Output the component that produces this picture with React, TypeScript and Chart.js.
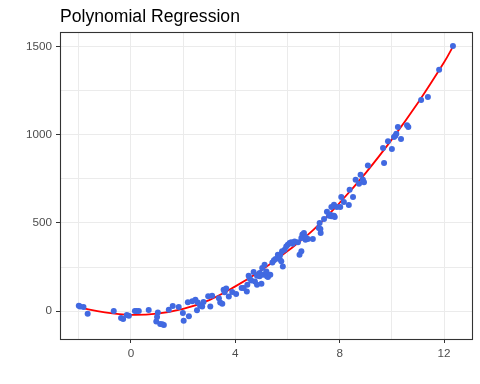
import React, { useEffect, useRef } from "react";
import { Chart, registerables } from "chart.js";

Chart.register(...registerables);

const titleText = "Polynomial Regression";

const pointX = [
  -2.0, -1.95, -1.82, -1.66, -0.66, -0.38, -0.3, -0.16, -0.08, 0.15, 0.22, 0.3, 0.68,
  0.97, 1.0, 1.03, 1.12, 1.26, 1.2, 1.45, 1.6, 1.83, 1.99, 2.02, 2.22,
  2.18, 2.35, 2.47, 2.56, 2.53, 2.65, 2.73, 2.78, 2.96, 3.11, 3.04, 3.37, 3.42, 3.5,
  3.55, 3.65, 3.59, 3.75, 3.88, 4.03,
  4.24, 4.32, 4.44, 4.46, 4.51, 4.55, 4.61, 4.7, 4.75, 4.83, 4.83, 4.93, 4.93, 5.0,
  5.03, 5.12, 5.06, 5.19, 5.21, 5.19, 5.25, 5.34,
  5.42, 5.48, 5.54, 5.63, 5.7, 5.76, 5.82, 5.72, 5.79, 5.89, 5.95, 6.01, 6.08, 6.14,
  6.2, 6.27, 6.4, 6.46, 6.53, 6.57, 6.63, 6.69, 6.78, 6.97, 6.53, 6.69,
  7.2, 7.23, 7.27, 7.26, 7.4, 7.51, 7.59, 7.64, 7.68, 7.74, 7.78, 7.81, 7.68, 7.78, 7.89,
  8.02, 8.06, 8.16, 8.35, 8.38, 8.51, 8.61, 8.74, 8.8, 8.89, 8.93, 9.08, 9.66, 9.7,
  9.85, 10.0, 10.08, 10.13, 10.17, 10.23, 10.35, 10.58, 10.63, 11.12, 11.38, 11.81, 12.34,
];

const pointY = [
  30, 26, 23, -15, 0, -40, -45, -23, -27, 0, 0, 0, 6,
  -59, -34, -8, -74, -80, -75, 7, 28, 23, -11, -56, -30,
  50, 55, 64, 49, 5, 30, 25, 51, 84, 86, 26, 72, 49, 41,
  121, 128, 106, 83, 108, 97,
  131, 131, 111, 149, 200, 184, 174, 222, 168, 149, 200, 197, 216, 155,
  244, 263, 206, 216, 197, 225, 193, 206,
  276, 288, 295, 320, 295, 282, 253, 320, 339, 348, 367, 377, 386, 390,
  382, 395, 390, 320, 339, 434, 443, 405, 409, 409, 415, 420,
  472, 500, 443, 466, 523, 564, 541, 547, 538, 541, 541, 534, 591, 604, 591,
  591, 648, 619, 602, 689, 648, 746, 723, 774, 746, 731, 826, 926, 841,
  964, 920, 989, 996, 1007, 1045, 977, 1055, 1045, 1199, 1216, 1371, 1506,
];

const fitX = [-2, -1, 0, 1, 2, 3, 4, 5, 6, 7, 8, 9, 10, 11, 12, 12.35];
const fitY = [20, -8, -22, -15, 12, 62, 140, 232, 340, 462, 615, 785, 975, 1183, 1413, 1505];

const xTicks = [-2, 0, 2, 4, 6, 8, 10, 12];
const xLabels = [0, 4, 8, 12];
const yTicks = [0, 250, 500, 750, 1000, 1250, 1500];
const yLabels = [0, 500, 1000, 1500];

const FONT = "'Liberation Sans', Arial, sans-serif";

export default function App() {
  const ref = useRef<HTMLCanvasElement | null>(null);

  useEffect(() => {
    document.body.style.margin = "0";
    const canvas = ref.current;
    if (!canvas) return;

    const panelPlugin = {
      id: "panelDecor",
      afterDraw(chart: any) {
        const { ctx, chartArea } = chart;
        ctx.save();
        ctx.strokeStyle = "#333333";
        ctx.lineWidth = 1.1;
        ctx.strokeRect(
          Math.round(chartArea.left) + 0.5,
          Math.round(chartArea.top) + 0.5,
          Math.round(chartArea.right - chartArea.left),
          Math.round(chartArea.bottom - chartArea.top)
        );
        ctx.fillStyle = "#000000";
        ctx.font = `17.6px ${FONT}`;
        ctx.textBaseline = "alphabetic";
        ctx.textAlign = "left";
        ctx.fillText(titleText, 60, 22);
        ctx.restore();
      },
    };

    const chart = new Chart(canvas, {
      data: {
        datasets: [
          {
            type: "scatter",
            data: pointX.map((x, i) => ({ x, y: pointY[i] })),
            backgroundColor: "#4169E1",
            borderWidth: 0,
            pointRadius: 3,
            order: 0,
          },
          {
            type: "line",
            data: fitX.map((x, i) => ({ x, y: fitY[i] })),
            borderColor: "#FF0000",
            borderWidth: 1.8,
            pointRadius: 0,
            tension: 0.4,
            fill: false,
            order: 1,
          },
        ],
      },
      options: {
        responsive: false,
        animation: false,
        events: [],
        layout: { padding: { top: 32, right: 8, bottom: 0, left: 0 } },
        plugins: {
          legend: { display: false },
          tooltip: { enabled: false },
          title: { display: false },
        },
        scales: {
          x: {
            type: "linear",
            min: -2.72,
            max: 13.07,
            afterBuildTicks: (scale: any) => {
              scale.ticks = xTicks.map((v) => ({ value: v }));
            },
            afterFit: (scale: any) => {
              scale.height = 45;
            },
            border: { display: false },
            grid: {
              color: "#EBEBEB",
              lineWidth: 1,
              drawTicks: true,
              tickLength: 4,
              tickColor: (ctx: any) =>
                ctx.tick && xLabels.includes(ctx.tick.value) ? "#333333" : "rgba(0,0,0,0)",
            },
            ticks: {
              padding: 4,
              color: "#4D4D4D",
              font: { family: FONT, size: 11.7 },
              maxRotation: 0,
              autoSkip: false,
              callback: (v: any) => (xLabels.includes(Number(v)) ? String(v) : ""),
            },
          },
          y: {
            type: "linear",
            min: -159,
            max: 1585,
            afterBuildTicks: (scale: any) => {
              scale.ticks = yTicks.map((v) => ({ value: v }));
            },
            afterFit: (scale: any) => {
              scale.width = 60;
            },
            border: { display: false },
            grid: {
              color: "#EBEBEB",
              lineWidth: 1,
              drawTicks: true,
              tickLength: 4,
              tickColor: (ctx: any) =>
                ctx.tick && yLabels.includes(ctx.tick.value) ? "#333333" : "rgba(0,0,0,0)",
            },
            ticks: {
              padding: 4,
              color: "#4D4D4D",
              font: { family: FONT, size: 11.7 },
              autoSkip: false,
              callback: (v: any) => (yLabels.includes(Number(v)) ? String(v) : ""),
            },
          },
        },
      },
      plugins: [panelPlugin],
    } as any);

    return () => chart.destroy();
  }, []);

  return <canvas ref={ref} width={480} height={384} style={{ display: "block" }} />;
}
